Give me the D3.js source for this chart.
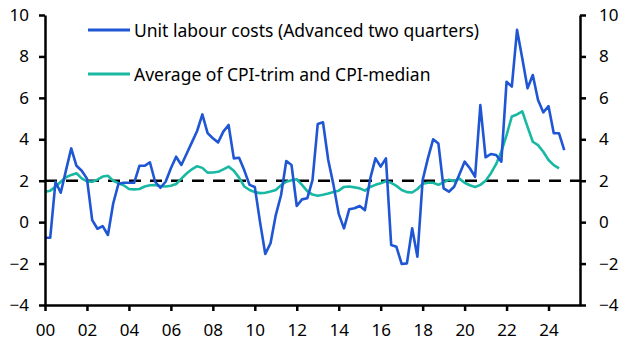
<!DOCTYPE html>
<html>
<head>
<meta charset="utf-8">
<script src="https://cdn.jsdelivr.net/npm/d3@7"></script>
<style>
  html, body { margin: 0; padding: 0; background: #ffffff; }
  svg { display: block; }
  text { font-family: "Noto Sans", "Open Sans", sans-serif; fill: #000; }
</style>
</head>
<body>
<svg id="chart" width="629" height="354"></svg>
<script>
// ---- Data (quarterly, starting 2000 Q1) ----
const startYear = 2000;
const ulcValues = [
  -0.75, -0.75, 1.95, 1.42, 2.5, 3.56, 2.72, 2.48, 2.1, 0.1,
  -0.32, -0.19, -0.62, 0.9, 1.85, 1.9, 1.9, 1.9, 2.72, 2.72,
  2.89, 1.95, 1.66, 1.95, 2.6, 3.16, 2.76, 3.3, 3.85, 4.4,
  5.2, 4.3, 4.05, 3.85, 4.37, 4.69, 3.08, 3.11, 2.5, 1.8,
  1.7, 0.0, -1.54, -1.02, 0.34, 1.3, 2.95, 2.76, 0.78, 1.1,
  1.15, 2.03, 4.74, 4.82, 3.0, 1.8, 0.4, -0.3, 0.62, 0.67,
  0.78, 0.58, 2.1, 3.08, 2.68, 3.08, -1.1, -1.19, -2.02, -1.99,
  -0.3, -1.67, 2.03, 3.08, 4.0, 3.8, 1.63, 1.47, 1.71, 2.3,
  2.92, 2.6, 2.19, 5.65, 3.13, 3.29, 3.24, 2.92, 6.78, 6.54,
  9.28, 7.9, 6.46, 7.1, 5.9, 5.3, 5.6, 4.29, 4.29, 3.48
];
const cpiValues = [
  1.47, 1.52, 1.7, 1.95, 2.17, 2.28, 2.36, 2.11, 1.97, 1.95,
  2.05, 2.2, 2.24, 2.0, 1.88, 1.78, 1.6, 1.58, 1.6, 1.72,
  1.78, 1.79, 1.74, 1.72, 1.76, 1.84, 2.1, 2.35, 2.55, 2.7,
  2.62, 2.39, 2.4, 2.43, 2.55, 2.68, 2.48, 2.15, 1.72, 1.55,
  1.45, 1.4, 1.42, 1.48, 1.55, 1.78, 1.95, 2.02, 2.07, 1.8,
  1.5, 1.33, 1.27, 1.32, 1.38, 1.45, 1.52, 1.7, 1.72, 1.68,
  1.63, 1.52, 1.7, 1.8, 1.88, 1.97, 1.9, 1.75, 1.55, 1.45,
  1.43, 1.6, 1.85, 1.9, 1.9, 1.8, 1.92, 2.05, 1.97, 2.1,
  1.9, 1.78, 1.7, 1.8, 2.0, 2.35, 2.8, 3.4, 4.2, 5.1,
  5.2, 5.35, 4.6, 3.88, 3.72, 3.4, 3.0, 2.75, 2.6
];
const seriesNames = ["Unit labour costs (Advanced two quarters)", "Average of CPI-trim and CPI-median"];
const seriesColors = ["#1f56d4", "#19b8a2"];
const yTicks = [-4, -2, 0, 2, 4, 6, 8, 10];
const xTickYears = [2000, 2002, 2004, 2006, 2008, 2010, 2012, 2014, 2016, 2018, 2020, 2022, 2024];
const xTickLabels = ["00", "02", "04", "06", "08", "10", "12", "14", "16", "18", "20", "22", "24"];
const targetLevel = 2;

// ---- Layout ----
const svg = d3.select("#chart");
const mLeft = 45, mRight = 580, mTop = 15, mBottom = 305;

const x = d3.scaleLinear().domain([2000, 2025.5]).range([mLeft, mRight]);
const y = d3.scaleLinear().domain([-4, 10]).range([mBottom, mTop]);

const toPoints = vals => vals.map((v, i) => ({ t: startYear + i * 0.25, v }));
const line = d3.line().x(d => x(d.t)).y(d => y(d.v));

// target dashed line
svg.append("line")
  .attr("x1", x(2000)).attr("x2", x(2025.5))
  .attr("y1", y(targetLevel)).attr("y2", y(targetLevel))
  .attr("stroke", "#000").attr("stroke-width", 2.6)
  .attr("stroke-dasharray", "12,9");

// series lines
svg.append("path").datum(toPoints(cpiValues))
  .attr("d", line).attr("fill", "none")
  .attr("stroke", seriesColors[1]).attr("stroke-width", 2.6)
  .attr("stroke-linejoin", "round");
svg.append("path").datum(toPoints(ulcValues))
  .attr("d", line).attr("fill", "none")
  .attr("stroke", seriesColors[0]).attr("stroke-width", 2.6)
  .attr("stroke-linejoin", "round");

// axes
const axisStyle = g => {
  g.selectAll(".domain").attr("stroke", "#000").attr("stroke-width", 2.5);
  g.selectAll(".tick line").attr("stroke", "#000").attr("stroke-width", 2.5);
  g.selectAll(".tick text").style("font-size", "17px").style("font-family", "'Noto Sans', sans-serif").attr("fill", "#000");
};

svg.append("g").attr("transform", `translate(${mLeft},0)`)
  .call(d3.axisLeft(y).tickValues(yTicks).tickSize(6).tickSizeOuter(0).tickPadding(10).tickFormat(d3.format("d")))
  .call(axisStyle);

svg.append("g").attr("transform", `translate(${mRight},0)`)
  .call(d3.axisRight(y).tickValues(yTicks).tickSize(6).tickSizeOuter(0).tickPadding(13).tickFormat(d3.format("d")))
  .call(axisStyle);

svg.append("g").attr("transform", `translate(0,${mBottom})`)
  .call(d3.axisBottom(x).tickValues(xTickYears).tickSize(6).tickSizeOuter(0).tickPadding(13)
    .tickFormat((d, i) => xTickLabels[i]))
  .call(axisStyle);

// legend
const legend = svg.append("g");
[30, 74].forEach((ly, i) => {
  legend.append("line").attr("x1", 88).attr("x2", 130).attr("y1", ly).attr("y2", ly)
    .attr("stroke", seriesColors[i]).attr("stroke-width", 3);
  legend.append("text").attr("x", 134).attr("y", ly + 6.5)
    .style("font-size", "17.5px").text(seriesNames[i]);
});
</script>
</body>
</html>
